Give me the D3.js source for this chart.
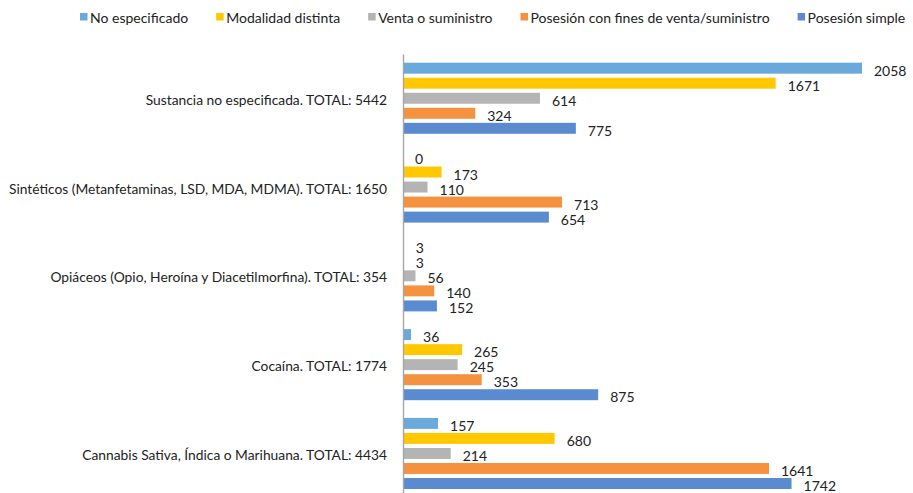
<!DOCTYPE html>
<html>
<head>
<meta charset="utf-8">
<script src="https://cdn.jsdelivr.net/npm/d3@7"></script>
<style>
  body { margin: 0; background: #fff; }
  svg { display: block; font-family: Lato, "Open Sans", sans-serif; }
</style>
</head>
<body>
<svg id="chart" width="913" height="493"></svg>
<script>
var categories = [
    "Sustancia no especificada. TOTAL: 5442",
    "Sintéticos (Metanfetaminas, LSD, MDA, MDMA). TOTAL: 1650",
    "Opiáceos (Opio, Heroína y Diacetilmorfina). TOTAL: 354",
    "Cocaína. TOTAL: 1774",
    "Cannabis Sativa, Índica o Marihuana. TOTAL: 4434"
];
var series = ["No especificado", "Modalidad distinta", "Venta o suministro",
    "Posesión con fines de venta/suministro", "Posesión simple"];
var noEspecificado = [2058, 0, 3, 36, 157];
var modalidadDistinta = [1671, 173, 3, 265, 680];
var ventaSuministro = [614, 110, 56, 245, 214];
var posesionFines = [324, 713, 140, 353, 1641];
var posesionSimple = [775, 654, 152, 875, 1742];
var colors = ["#6aa9dc", "#ffc800", "#b4b4b4", "#f59240", "#5a8ad0"];

var values = [noEspecificado, modalidadDistinta, ventaSuministro, posesionFines, posesionSimple];
var rows = [];
categories.forEach((c, ci) => {
    series.forEach((s, si) => rows.push({cat: c, ser: s, si: si, v: values[si][ci]}));
});

var svg = d3.select("#chart");

var x = d3.scaleLinear().domain([0, d3.max(rows, d => d.v)]).range([403, 862]);
var y0 = d3.scaleBand().domain(categories).range([54, 498]);
var y1 = d3.scaleBand().domain(series).range([8.7, 79.8]).paddingInner(0.27);
var color = d3.scaleOrdinal().domain(series).range(colors);

// bars
svg.append("g").selectAll("rect")
    .data(rows)
    .join("rect")
    .attr("x", x(0))
    .attr("y", d => y0(d.cat) + y1(d.ser))
    .attr("width", d => x(d.v) - x(0))
    .attr("height", y1.bandwidth())
    .attr("fill", d => color(d.ser));

// data labels
svg.append("g").selectAll("text")
    .data(rows)
    .join("text")
    .attr("x", d => x(d.v) + 12)
    .attr("y", d => y0(d.cat) + y1(d.ser) + y1.bandwidth() / 2 + 2)
    .attr("dominant-baseline", "central")
    .style("font-size", "14px")
    .style("fill", "#222")
    .text(d => d.v);

// category axis
var axis = svg.append("g")
    .attr("transform", "translate(" + x(0) + ",0)")
    .call(d3.axisLeft(y0).tickSize(0).tickPadding(16));
axis.select(".domain").attr("stroke", "#a6a6a6").attr("stroke-width", 1.4);
axis.selectAll("text")
    .attr("dy", "0.32em")
    .attr("y", 2)
    .style("font-family", "Lato, sans-serif")
    .style("font-size", "13.8px")
    .style("fill", "#222");

// legend
var legend = svg.append("g").attr("transform", "translate(80,17)");
var lx = 0;
series.forEach((s, i) => {
    var item = legend.append("g").attr("transform", "translate(" + lx + ",0)");
    item.append("rect").attr("x", 0).attr("y", -4).attr("width", 7.5).attr("height", 7.5).attr("fill", colors[i]);
    var t = item.append("text")
        .attr("x", 10)
        .attr("y", 0)
        .attr("dominant-baseline", "central")
        .style("font-size", "14px")
        .style("fill", "#222")
        .text(s);
    lx += 10 + t.node().getComputedTextLength() + 28;
});
</script>
</body>
</html>
